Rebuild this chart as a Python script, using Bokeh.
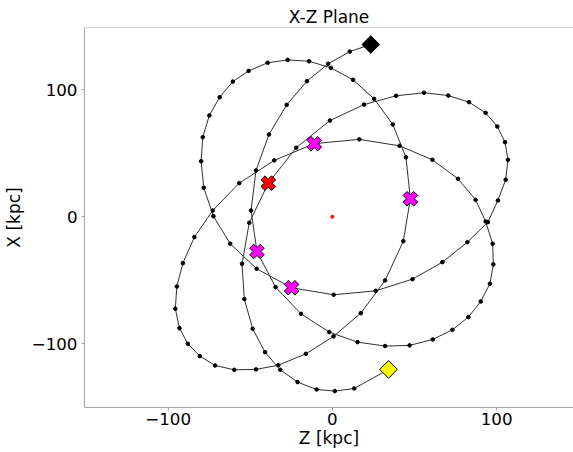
import numpy as np
from bokeh.plotting import figure
from bokeh.models import Range1d, FixedTicker, Span
from bokeh.embed import file_html
from bokeh.resources import INLINE

# Orbit samples (Z, X) in kpc
orbit_z = [23.4, 10.6, -2.6, -15.5, -27.8, -38.6, -46.5, -49.5, -45.9, -34.6,
           -19.1, -1.9, 15.3, 32.1, 47.0, 61.1, 73.1, 82.8, 90.3, 95.9,
           98.0, 97.6, 93.3, 87.2, 76.5, 60.9, 40.9, 16.4, -11.0, -35.4,
           -56.7, -72.8, -84.0, -91.0, -94.7, -95.6, -93.1, -88.0, -80.7, -71.4,
           -59.7, -46.5, -33.0, -16.1, 0.7, 17.3, 32.1, 43.2, 47.5, 44.8,
           36.8, 25.4, 12.6, -0.9, -14.1, -27.2, -39.4, -51.0, -60.6, -68.6,
           -74.9, -78.9, -79.9, -78.3, -72.4, -62.2, -46.1, -24.8, 0.8, 26.4,
           48.8, 67.0, 82.2, 94.7, 100.8, 105.5, 106.9, 105.1, 100.4, 93.3,
           83.2, 70.6, 55.8, 38.8, 19.3, -1.5, -22.0, -39.0, -50.6, -55.0,
           -53.6, -48.5, -41.0, -31.7, -21.2, -9.6, 1.5, 13.3, 34.2]
orbit_x = [135.6, 130.0, 120.4, 106.7, 88.1, 64.7, 36.4, 4.9, -27.4, -55.5,
           -76.5, -90.9, -98.8, -101.9, -101.4, -96.7, -89.1, -79.1, -66.8, -52.8,
           -37.6, -21.3, -3.8, 13.3, 29.8, 44.8, 55.8, 60.9, 57.5, 44.3,
           26.4, 4.9, -16.1, -36.6, -55.0, -72.5, -87.8, -100.1, -109.8, -117.2,
           -120.6, -120.3, -117.0, -108.0, -94.3, -76.0, -50.2, -19.3, 14.1, 46.7,
           72.6, 92.8, 107.8, 117.2, 122.4, 123.5, 121.2, 114.8, 106.4, 94.1,
           79.7, 62.6, 43.7, 22.8, 0.4, -21.3, -41.0, -56.0, -61.5, -58.4,
           -49.2, -35.8, -20.1, -4.3, 12.8, 29.1, 44.8, 58.7, 71.0, 81.8,
           90.2, 95.4, 97.6, 95.2, 88.3, 75.7, 54.3, 26.4, -4.8, -37.1,
           -64.9, -88.3, -106.7, -120.6, -130.3, -136.1, -137.4, -135.3, -120.3]

# Pericentre passages (magenta crosses)
peri_z = [-45.9, -11.0, 47.5, -24.8]
peri_x = [-27.4, 57.5, 14.1, -56.0]
# Last pericentre (red cross)
last_z = [-39.0]
last_x = [26.4]
# Start (black diamond) and end (yellow diamond)
start_z = [23.4]
start_x = [135.6]
end_z = [34.2]
end_x = [-120.3]
# Galactic centre
centre_z = [0.0]
centre_x = [0.0]

ticks = [-100, 0, 100]
tick_labels = {-100: "\u2212100", 0: "0", 100: "100"}

FONT = "DejaVu Sans"
GREY = "#a6a6a6"

p = figure(width=573, height=452,
           x_range=Range1d(-150.9, 146.8), y_range=Range1d(-150.3, 149.0),
           output_backend="svg", toolbar_location=None,
           min_border_left=83, min_border_right=0,
           min_border_top=27, min_border_bottom=45,
           title="X-Z Plane")
p.outline_line_color = None
p.background_fill_color = "white"
p.border_fill_color = "white"
p.xgrid.visible = False
p.ygrid.visible = False

p.title.text_font = FONT
p.title.text_font_size = "17px"
p.title.text_font_style = "normal"
p.title.text_color = "black"
p.title.align = "center"
p.title.standoff = 2
p.title.offset = 3

for ax in (p.xaxis, p.yaxis):
    ax.ticker = FixedTicker(ticks=ticks)
    ax.major_label_overrides = tick_labels
    ax.minor_tick_line_color = None
    ax.major_tick_in = 0
    ax.major_tick_out = 3
    ax.major_tick_line_color = GREY
    ax.axis_line_color = GREY
    ax.major_label_text_font = FONT
    ax.major_label_text_font_size = "16.7px"
    ax.major_label_text_color = "black"
    ax.axis_label_text_font = FONT
    ax.axis_label_text_font_size = "17px"
    ax.axis_label_text_font_style = "normal"
    ax.axis_label_text_color = "black"

p.xaxis.major_label_standoff = 2
p.xaxis.axis_label_standoff = 0
p.yaxis.major_label_standoff = 4
p.yaxis.axis_label_standoff = 5

p.xaxis.axis_label = "Z [kpc]"
p.yaxis.axis_label = "X [kpc]"

p.add_layout(Span(location=149.0, dimension="width", line_color=GREY, line_width=1))

p.line(orbit_z, orbit_x, line_color="#303030", line_width=1)
p.scatter(orbit_z, orbit_x, size=3.6, color="black")
p.scatter(centre_z, centre_x, size=3, color="red")
p.scatter(peri_z, peri_x, marker="plus", angle=np.pi / 4, size=15,
          fill_color="#ff00ff", line_color="black", line_width=1)
p.scatter(last_z, last_x, marker="plus", angle=np.pi / 4, size=15,
          fill_color="#ff0000", line_color="black", line_width=1)
p.scatter(start_z, start_x, marker="square", angle=np.pi / 4, size=12.5,
          fill_color="black", line_color="black", line_width=1)
p.scatter(end_z, end_x, marker="square", angle=np.pi / 4, size=12.5,
          fill_color="#ffff00", line_color="black", line_width=1)

open("out.html", "w").write(file_html(p, INLINE))
